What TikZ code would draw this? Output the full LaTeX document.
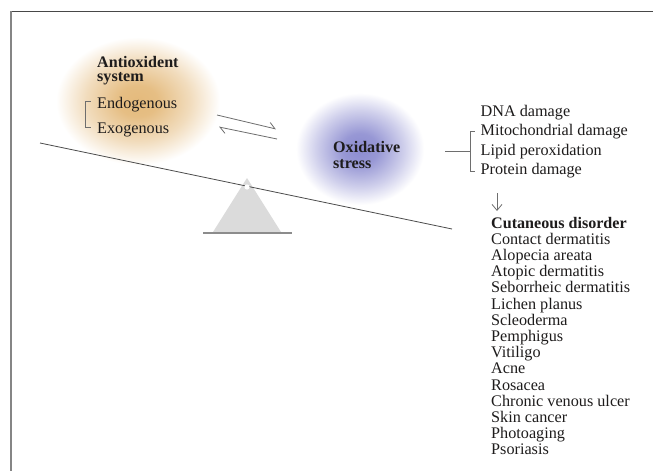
\documentclass[tikz,border=0pt]{standalone}
\usepackage{fontspec}
\setmainfont{Liberation Serif}
\usetikzlibrary{arrows.meta}
\definecolor{og}{RGB}{228,186,124}
\definecolor{bg}{RGB}{140,140,208}
\definecolor{txt}{RGB}{30,28,28}
\definecolor{ln}{RGB}{110,110,110}
\pgfdeclareradialshading{orangeglow}{\pgfpoint{0bp}{0bp}}{color(0bp)=(og); color(6bp)=(og!94!white); color(16bp)=(og!50!white); color(25bp)=(white); color(50bp)=(white)}
\pgfdeclareradialshading{blueglow}{\pgfpoint{0bp}{0bp}}{color(0bp)=(bg); color(7bp)=(bg!90!white); color(17bp)=(bg!42!white); color(25bp)=(white); color(50bp)=(white)}
\begin{document}
\begin{tikzpicture}[x=1pt,y=-1pt,
  lab/.style={anchor=base west,inner sep=0pt,text=txt,font=\fontsize{16.2}{17}\selectfont},
  blab/.style={lab,font=\fontsize{16.1}{17}\selectfont\bfseries},
  conn/.style={draw=ln,line width=0.8pt}]
\useasboundingbox (0,0) rectangle (653,471);
\fill[white] (0,0) rectangle (653,471);
% frame
\draw[draw=black!72,line width=1.4pt] (10.7,11.3) -- (653,11.3);
\draw[draw=black!48,line width=1.8pt] (10.7,471) -- (10.7,10.6);
% glows
\shade[shading=orangeglow] (138,101) ellipse [x radius=82, y radius=64];
\shade[shading=blueglow] (360,149) ellipse [x radius=64, y radius=56];
% seesaw
\coordinate (sl1) at (40,143);
\coordinate (sl2) at (452,229);
\fill[black!14] (247,178) -- (213,232) -- (281,232) -- cycle;
\draw[draw=black!45,line width=1.8pt] (203,233) -- (292,233);
\draw[draw=black!70,line width=0.8pt] (sl1) -- (sl2);
\fill[white] (247,187) circle (2.6);
% left texts
\node[blab] (anti) at (97,67) {Antioxident};
\node[blab] (sys) at (97,81.5) {system};
\node[lab] (endo) at (97,108) {Endogenous};
\node[lab] (exo) at (97,133) {Exogenous};
\coordinate (lb1) at (90.5,101);
\coordinate (lb2) at (90.5,127);
\draw[conn,line width=0.7pt] (lb1) -- (85,101) -- (85,127) -- (lb2);
% harpoons
\coordinate (h1a) at (217,115);
\coordinate (h1b) at (276,129);
\coordinate (h2a) at (277,139);
\coordinate (h2b) at (219,127);
\draw[conn,-{Straight Barb[harpoon,length=6pt,width=10pt]}] (h1a) -- (h1b);
\draw[conn,-{Straight Barb[harpoon,length=6pt,width=10pt]}] (h2a) -- (h2b);
% oxidative stress
\node[blab] (oxi) at (333,152.5) {Oxidative};
\node[blab] (str) at (333,168.5) {stress};
% right column
\node[lab] (dna) at (480.5,116) {DNA damage};
\node[lab] (mito) at (480.5,135.5) {Mitochondrial damage};
\node[lab] (lip) at (480.5,155) {Lipid peroxidation};
\node[lab] (prot) at (480.5,174.5) {Protein damage};
\coordinate (st1) at (445,151);
\coordinate (st2) at (470,151);
\draw[conn] (st1) -- (st2);
\draw[conn] (474.5,131) -- (470,131) -- (470,171) -- (474.5,171);
\coordinate (ar1) at (497,193);
\coordinate (ar2) at (497,211);
\draw[conn,-{Straight Barb[length=6pt,width=10pt]}] (ar1) -- (ar2);
\node[blab] (cut) at (491,228) {Cutaneous disorder};
\foreach \t [count=\i] in {Contact dermatitis,Alopecia areata,Atopic dermatitis,Seborrheic dermatitis,Lichen planus,Scleoderma,Pemphigus,Vitiligo,Acne,Rosacea,Chronic venous ulcer,Skin cancer,Photoaging,Psoriasis}
  \node[lab] (d\i) at (491,{228+16.2*\i}) {\t};
\end{tikzpicture}
\end{document}
